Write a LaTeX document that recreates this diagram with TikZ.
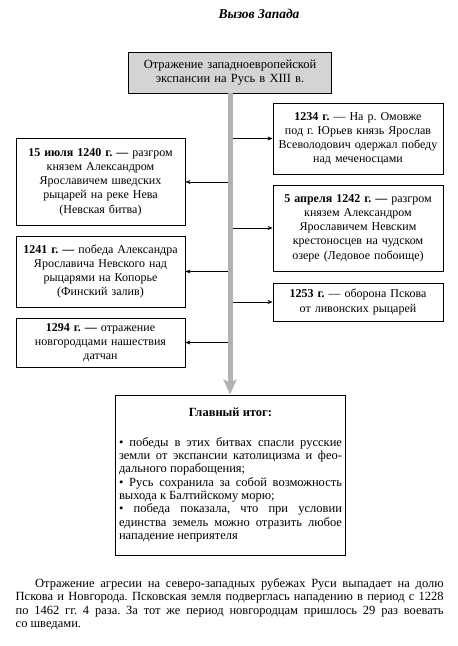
\documentclass[tikz,border=0pt]{standalone}
\usepackage{fontspec}
\setmainfont{Liberation Serif}
\usepackage{tikz}
\usetikzlibrary{arrows.meta}
\definecolor{boxgray}{RGB}{212,212,212}
\definecolor{spinegray}{RGB}{178,178,178}
\frenchspacing

\begin{document}
\begin{tikzpicture}[x=1pt,y=-1pt,
        box/.style={draw,line width=0.9pt,align=center,inner sep=0pt,font=\fontsize{12}{14.2}\selectfont},
        arr/.style={line width=0.6pt,-{Stealth[length=5pt,width=4pt]}},
        spine/.style={spinegray,line width=5pt,-{Stealth[length=15pt,width=13pt,inset=3pt]}}]
            \useasboundingbox (0,0) rectangle (458,646);
            \node[font=\bfseries\itshape\fontsize{13.5}{15}\selectfont] (ttl) at (259,14) {Вызов Запада};
            \node[box,fill=boxgray,text width=203pt,minimum height=41pt,font=\fontsize{12.5}{14.2}\selectfont] (top) at (230,72.5)
                {Отражение западноевропейской\\экспансии на Русь в XIII в.};
            \node[box,text width=170pt,minimum height=71pt] (omov) at (358,138.5)
                {\textbf{1234 г.} — На р. Омовже\\под г. Юрьев князь Ярослав\\Всеволодович одержал победу\\над меченосцами};
            \node[box,text width=170pt,minimum height=86pt] (chud) at (358,228)
                {\textbf{5 апреля 1242 г. —} разгром\\князем Александром\\Ярославичем Невским\\крестоносцев на чудском\\озере (Ледовое побоище)};
            \node[box,text width=170pt,minimum height=38pt] (pskov) at (358,302)
                {\textbf{1253 г.} — оборона Пскова\\от ливонских рыцарей};
            \node[box,text width=169pt,minimum height=87pt] (neva) at (100.5,182)
                {\textbf{15 июля 1240 г. —} разгром\\князем Александром\\Ярославичем шведских\\рыцарей на реке Нева\\(Невская битва)};
            \node[box,text width=169pt,minimum height=71pt] (kopor) at (100.5,271.5)
                {\textbf{1241 г. —} победа Александра\\Ярославича Невского над\\рыцарями на Копорье\\(Финский залив)};
            \node[box,text width=169pt,minimum height=49pt] (dat) at (100.5,342.5)
                {\textbf{1294 г. —} отражение\\новгородцами нашествия\\датчан};
            \node[box,align=justify,text width=223pt,inner xsep=3.5pt,minimum height=160pt,
                font=\fontsize{12.5}{13.3}\selectfont] (itog) at (230.5,475)
                {\makebox[\linewidth]{\bfseries Главный итог:}\par\vspace{16.5pt}
                 • победы в этих битвах спасли русские\linebreak земли от экспансии католицизма и фео-\linebreak дального порабощения;\par
                 • Русь сохранила за собой возможность\linebreak выхода к Балтийскому морю;\par
                 • победа показала, что при условии\linebreak единства земель можно отразить любое\linebreak нападение неприятеля};
            \node[anchor=base west,inner sep=0pt,text width=428pt,align=justify,
                font=\fontsize{12.5}{13.6}\selectfont] (txt) at (15.5,587)
                {\hspace*{19.5pt}Отражение агресии на северо-западных рубежах Руси выпадает на долю\linebreak
                 Пскова и Новгорода. Псковская земля подверглась нападению в период с 1228\linebreak
                 по 1462 гг. 4 раза. За тот же период новгородцам пришлось 29 раз воевать\linebreak
                 со шведами.};
            \coordinate (sp) at (230,93);
            \draw[arr] (sp |- omov.west) -- (omov.west);
            \draw[arr] (sp |- chud.west) -- (chud.west);
            \draw[arr] (sp |- pskov.west) -- (pskov.west);
            \draw[arr] (sp |- neva.east) -- (neva.east);
            \draw[arr] (sp |- kopor.east) -- (kopor.east);
            \draw[arr] (sp |- dat.east) -- (dat.east);
            \draw[spine] (top.south) -- (top.south |- itog.north);
        \end{tikzpicture}
\end{document}
